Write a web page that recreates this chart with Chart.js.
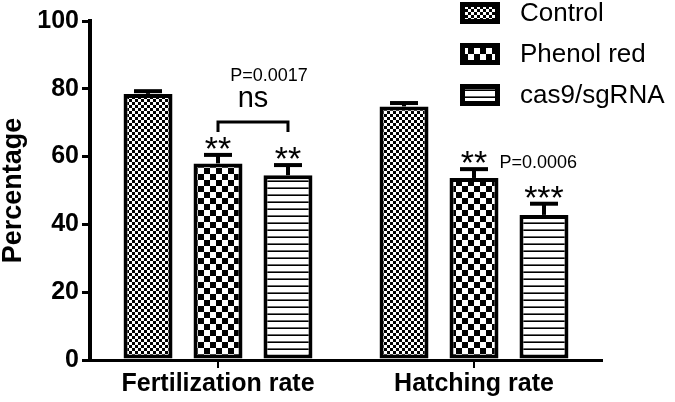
<!DOCTYPE html>
<html>
<head>
<meta charset="utf-8">
<script src="https://cdn.jsdelivr.net/npm/chart.js@4.4.1/dist/chart.umd.min.js"></script>
<style>
  html, body { margin: 0; padding: 0; background: #fff; }
  #wrap { width: 675px; height: 402px; position: relative; }
</style>
</head>
<body>
<div id="wrap"><canvas id="c" width="675" height="402"></canvas></div>
<script>
/* Fertilization / hatching rate bars with SEM and significance marks */

const categories = ['Fertilization rate', 'Hatching rate'];
const seriesNames = ['Control', 'Phenol red', 'cas9/sgRNA'];
const controlMean = [78.5, 74.8];
const controlErr = [0.8, 1.0];
const phenolMean = [58.0, 53.7];
const phenolErr = [2.5, 2.6];
const cas9Mean = [54.5, 42.8];
const cas9Err = [3.0, 3.3];
const yTicks = [0, 20, 40, 60, 80, 100];
const phenolStars = ['**', '**'];
const cas9Stars = ['**', '***'];
const bracketText = ['ns', 'P=0.0017'];
const hatchP = 'P=0.0006';

const FONT = '"Liberation Sans", Arial, Helvetica, sans-serif';
const canvas = document.getElementById('c');
const ctx = canvas.getContext('2d');

function checker(cell) {
  const c = document.createElement('canvas');
  c.width = c.height = cell * 2;
  const g = c.getContext('2d');
  g.fillStyle = '#fff'; g.fillRect(0, 0, cell * 2, cell * 2);
  g.fillStyle = '#000';
  g.fillRect(0, 0, cell, cell);
  g.fillRect(cell, cell, cell, cell);
  return ctx.createPattern(c, 'repeat');
}
function stripes(period, thick) {
  const c = document.createElement('canvas');
  c.width = 4; c.height = period;
  const g = c.getContext('2d');
  g.fillStyle = '#fff'; g.fillRect(0, 0, 4, period);
  g.fillStyle = '#000'; g.fillRect(0, period - thick, 4, thick);
  return ctx.createPattern(c, 'repeat');
}
const fills = [checker(3), checker(6), stripes(7, 1.6)];
const errs = [controlErr, phenolErr, cas9Err];

// upward-only error bars
const errorBarPlugin = {
  id: 'errBars',
  afterDatasetsDraw(chart) {
    const { ctx, scales } = chart;
    ctx.save();
    ctx.strokeStyle = '#000';
    ctx.lineCap = 'butt';
    chart.data.datasets.forEach((ds, di) => {
      chart.getDatasetMeta(di).data.forEach((bar, i) => {
        const yTop = scales.y.getPixelForValue(ds.data[i] + errs[di][i]);
        ctx.lineWidth = 4;
        ctx.beginPath(); ctx.moveTo(bar.x, bar.y); ctx.lineTo(bar.x, yTop); ctx.stroke();
        ctx.beginPath(); ctx.moveTo(bar.x - 14, yTop); ctx.lineTo(bar.x + 14, yTop); ctx.stroke();
      });
    });
    ctx.restore();
  },
};

// stars, bracket and p values
const annotatePlugin = {
  id: 'annot',
  afterDraw(chart) {
    const { ctx, scales } = chart;
    const capY = (di, i) => scales.y.getPixelForValue(chart.data.datasets[di].data[i] + errs[di][i]);
    const barX = (di, i) => chart.getDatasetMeta(di).data[i].x;
    ctx.save();
    ctx.fillStyle = '#000';
    ctx.textAlign = 'center';
    ctx.textBaseline = 'alphabetic';

    // stars: glyph bottom placed a few px above the cap
    ctx.font = '34px ' + FONT;
    const starAt = (txt, x, bottom) => {
      const m = ctx.measureText(txt);
      ctx.fillText(txt, x, bottom - m.actualBoundingBoxDescent);
    };
    [[1, phenolStars], [2, cas9Stars]].forEach(([di, stars]) => {
      stars.forEach((s, i) => starAt(s, barX(di, i), capY(di, i) - 6));
    });

    // bracket between phenol red and cas9 on fertilization
    const x1 = barX(1, 0), x2 = barX(2, 0);
    const by = Math.min(capY(1, 0), capY(2, 0)) - 33;
    ctx.strokeStyle = '#000'; ctx.lineWidth = 3;
    ctx.beginPath();
    ctx.moveTo(x1, by + 10); ctx.lineTo(x1, by); ctx.lineTo(x2, by); ctx.lineTo(x2, by + 10);
    ctx.stroke();
    ctx.font = '29px ' + FONT;
    ctx.fillText(bracketText[0], (x1 + x2) / 2, by - 15);
    ctx.font = '18px ' + FONT;
    ctx.fillText(bracketText[1], (x1 + x2) / 2 + 16, by - 41);

    // hatching p value next to phenol red stars
    const pb = chart.getDatasetMeta(1).data[1];
    ctx.textAlign = 'left';
    ctx.fillText(hatchP, pb.x + pb.width / 2 + 1, capY(1, 1) - 1);
    ctx.restore();
  },
};

// legend drawn in the top right corner
const legendPlugin = {
  id: 'boxLegend',
  afterDraw(chart) {
    const { ctx } = chart;
    ctx.save();
    const rows = [13, 54, 95];
    chart.data.datasets.forEach((ds, di) => {
      const cy = rows[di];
      ctx.fillStyle = ds.backgroundColor;
      ctx.fillRect(460, cy - 11, 40, 22);
      ctx.strokeStyle = '#000'; ctx.lineWidth = 5;
      ctx.strokeRect(462.5, cy - 8.5, 35, 17);
      ctx.fillStyle = '#000';
      ctx.font = '26px ' + FONT;
      ctx.textAlign = 'left';
      ctx.textBaseline = 'middle';
      ctx.fillText(ds.label, 520, cy + 1);
    });
    ctx.restore();
  },
};

new Chart(canvas, {
  type: 'bar',
  data: {
    labels: categories,
    datasets: [controlMean, phenolMean, cas9Mean].map((d, i) => ({
      label: seriesNames[i],
      data: d,
      backgroundColor: fills[i],
      borderColor: '#000',
      borderWidth: 4,
      borderSkipped: false,
      barPercentage: 0.7,
      categoryPercentage: 0.82,
    })),
  },
  options: {
    responsive: false,
    animation: false,
    devicePixelRatio: 1,
    layout: { padding: { top: 21, right: 73, left: 0, bottom: 0 } },
    plugins: { legend: { display: false }, tooltip: { enabled: false } },
    scales: {
      x: {
        afterFit: (s) => { s.height = 42; },
        grid: { display: true, offset: false, drawOnChartArea: false, drawTicks: true, tickLength: 8, color: '#000', lineWidth: 2 },
        border: { color: '#000', width: 3 },
        ticks: { color: '#000', padding: 1, font: { family: FONT, size: 25, weight: 'bold' } },
      },
      y: {
        min: 0, max: 100,
        afterFit: (s) => { s.width = 90; },
        afterBuildTicks: (s) => { s.ticks = yTicks.map(v => ({ value: v })); },
        grid: { display: true, drawOnChartArea: false, drawTicks: true, tickLength: 8, color: '#000', lineWidth: 3 },
        border: { color: '#000', width: 4 },
        ticks: { color: '#000', padding: 3, font: { family: FONT, size: 25, weight: 'bold' } },
        title: { display: true, text: 'Percentage', color: '#000', padding: 0, font: { family: FONT, size: 27, weight: 'bold', lineHeight: 1 } },
      },
    },
  },
  plugins: [errorBarPlugin, annotatePlugin, legendPlugin],
});
</script>
</body>
</html>
